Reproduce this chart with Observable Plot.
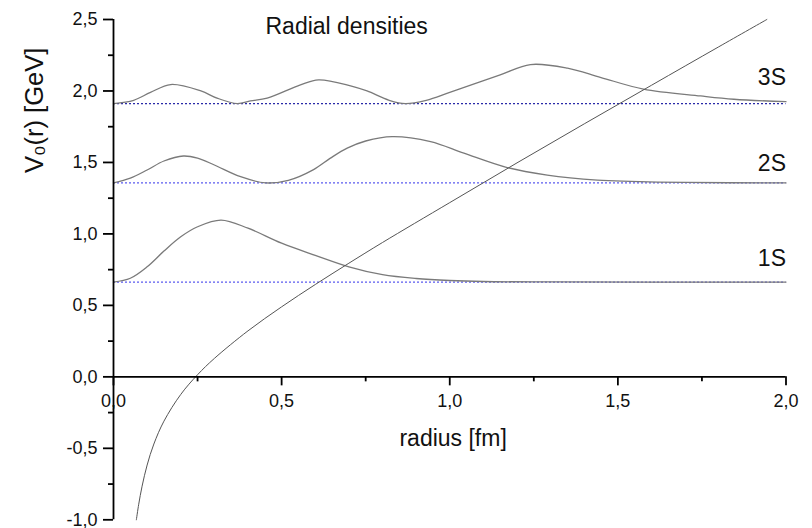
<!DOCTYPE html>
<html>
<head>
<meta charset="utf-8">
<script src="https://cdn.jsdelivr.net/npm/d3@7"></script>
<script src="https://cdn.jsdelivr.net/npm/@observablehq/plot@0.6"></script>
<style>
  html, body { margin: 0; padding: 0; background: #fff; }
  #chart { position: relative; width: 812px; height: 528px; }
  #chart svg { position: absolute; left: 0; top: 0; }
</style>
</head>
<body>
<div id="chart"></div>
<script>
// ---- data ----
const potR = [0.068,0.075,0.085,0.1,0.12,0.15,0.2,0.25,0.3,0.4,0.5,0.6,0.7,0.8,1.0,1.2,1.4,1.6,1.8,1.943];
const potV = [-1.0,-0.891,-0.765,-0.617,-0.470,-0.310,-0.123,0.015,0.129,0.322,0.490,0.646,0.795,0.940,1.219,1.497,1.770,2.040,2.309,2.5];

const s1R = [0,0.05,0.1,0.15,0.2,0.25,0.32,0.4,0.5,0.6,0.7,0.8,0.9,1.0,1.1,1.3,1.6,2.0];
const s1V = [0.663,0.69,0.77,0.88,0.98,1.05,1.097,1.04,0.935,0.85,0.77,0.715,0.688,0.674,0.667,0.664,0.663,0.663];

const s2R = [0,0.05,0.1,0.15,0.208,0.25,0.3,0.378,0.452,0.52,0.595,0.645,0.695,0.75,0.829,0.943,1.042,1.171,1.29,1.439,1.538,1.7,2.0];
const s2V = [1.357,1.39,1.447,1.51,1.545,1.53,1.482,1.40,1.357,1.375,1.45,1.53,1.60,1.65,1.681,1.646,1.565,1.464,1.412,1.377,1.368,1.36,1.357];

const s3R = [0,0.06,0.11,0.17,0.26,0.308,0.368,0.407,0.457,0.556,0.61,0.705,0.754,0.82,0.868,0.93,1.0,1.15,1.24,1.35,1.45,1.576,1.746,1.845,2.0];
const s3V = [1.912,1.935,1.99,2.045,2.0,1.95,1.912,1.93,1.95,2.043,2.078,2.036,2.0,1.935,1.912,1.935,1.99,2.113,2.185,2.16,2.094,2.013,1.965,1.942,1.925];

const levels = [0.663, 1.357, 1.912];
const levelLabels = ["1S", "2S", "3S"];
const levelLabelY = [0.826, 1.49, 2.09];

const xTicks = [0, 0.5, 1.0, 1.5, 2.0];
const xMinor = [0.25, 0.75, 1.25, 1.75];
const yTicks = [-1.0, -0.5, 0.0, 0.5, 1.0, 1.5, 2.0, 2.5];
const yMinor = [-0.75, -0.25, 0.25, 0.75, 1.25, 1.75, 2.25];

const titleText = "Radial densities";
const xLabel = "radius [fm]";
const yLabel = "V\u2080(r) [GeV]";

// ---- build ----
const zip = (R, V) => R.map((r, i) => ({r, v: V[i]}));
const pot = zip(potR, potV);
const lv = levels.map((y, i) => ({y, label: levelLabels[i], ly: levelLabelY[i], i}));
const fmt = d => d3.format(".1f")(d).replace(".", ",").replace("\u2212", "-");

const FONT = "'Liberation Sans', Arial, Helvetica, sans-serif";
const AX = { stroke: "#000", strokeWidth: 1.8 };

const frame = {
  width: 812,
  height: 528,
  marginLeft: 113,
  marginRight: 26.5,
  marginTop: 19,
  marginBottom: 8.7,
  x: { domain: [0, 2], axis: null },
  y: { domain: [-1, 2.5], axis: null }
};

// layer 1: data and texts
const plotData = Plot.plot({
  ...frame,
  style: { fontFamily: FONT, fontSize: "18px", background: "#fff", color: "#000", overflow: "visible" },
  marks: [
    Plot.ruleY(lv, { y: "y", x1: 0, x2: 2, stroke: d => d.i === 2 ? "#2a2aa8" : "#5b5bf0", strokeWidth: 1.2, strokeDasharray: "2,2" }),
    Plot.line(zip(s1R, s1V), { x: "r", y: "v", stroke: "#7a7a7a", strokeWidth: 1.3, curve: "catmull-rom" }),
    Plot.line(zip(s2R, s2V), { x: "r", y: "v", stroke: "#7a7a7a", strokeWidth: 1.3, curve: "catmull-rom" }),
    Plot.line(zip(s3R, s3V), { x: "r", y: "v", stroke: "#7a7a7a", strokeWidth: 1.3, curve: "catmull-rom" }),
    Plot.line(pot, { x: "r", y: "v", stroke: "#555", strokeWidth: 1, curve: "catmull-rom" }),
    Plot.text(xTicks, { x: d => d, y: 0, dy: 24, text: fmt, fontSize: 18, fill: "#111" }),
    Plot.text(yTicks, { x: 0, y: d => d, dx: -16, text: fmt, textAnchor: "end", fontSize: 18, fill: "#111" }),
    Plot.text(lv, { x: 2, y: "ly", text: "label", textAnchor: "end", fontSize: 23, fill: "#111" }),
    Plot.text([titleText], { x: 0.452, y: 2.45, text: d => d, textAnchor: "start", fontSize: 23, fill: "#111" }),
    Plot.text([xLabel], { x: 1.01, y: 0, dy: 62, text: d => d, fontSize: 23, fill: "#111" }),
    Plot.text([yLabel], { x: 0, y: 1.864, dx: -79, rotate: -90, text: d => d, fontSize: 25.5, fill: "#111" })
  ]
});

// layer 2: axis lines and ticks, same scales, transparent
const plotAxes = Plot.plot({
  ...frame,
  style: { background: "transparent", overflow: "visible" },
  marks: [
    Plot.ruleX([0], { y1: -1, y2: 2.5, ...AX }),
    Plot.ruleY([0], { x1: 0, x2: 2, ...AX }),
    Plot.ruleX(xTicks, { x: d => d, y1: 0, y2: 0, insetBottom: -9, ...AX }),
    Plot.ruleX(xMinor, { x: d => d, y1: 0, y2: 0, insetBottom: -5, ...AX }),
    Plot.ruleY(yTicks, { y: d => d, x1: 0, x2: 0, insetLeft: -10, ...AX }),
    Plot.ruleY(yMinor, { y: d => d, x1: 0, x2: 0, insetLeft: -5, ...AX })
  ]
});

const chart = document.getElementById("chart");
chart.appendChild(plotData);
chart.appendChild(plotAxes);
</script>
</body>
</html>
